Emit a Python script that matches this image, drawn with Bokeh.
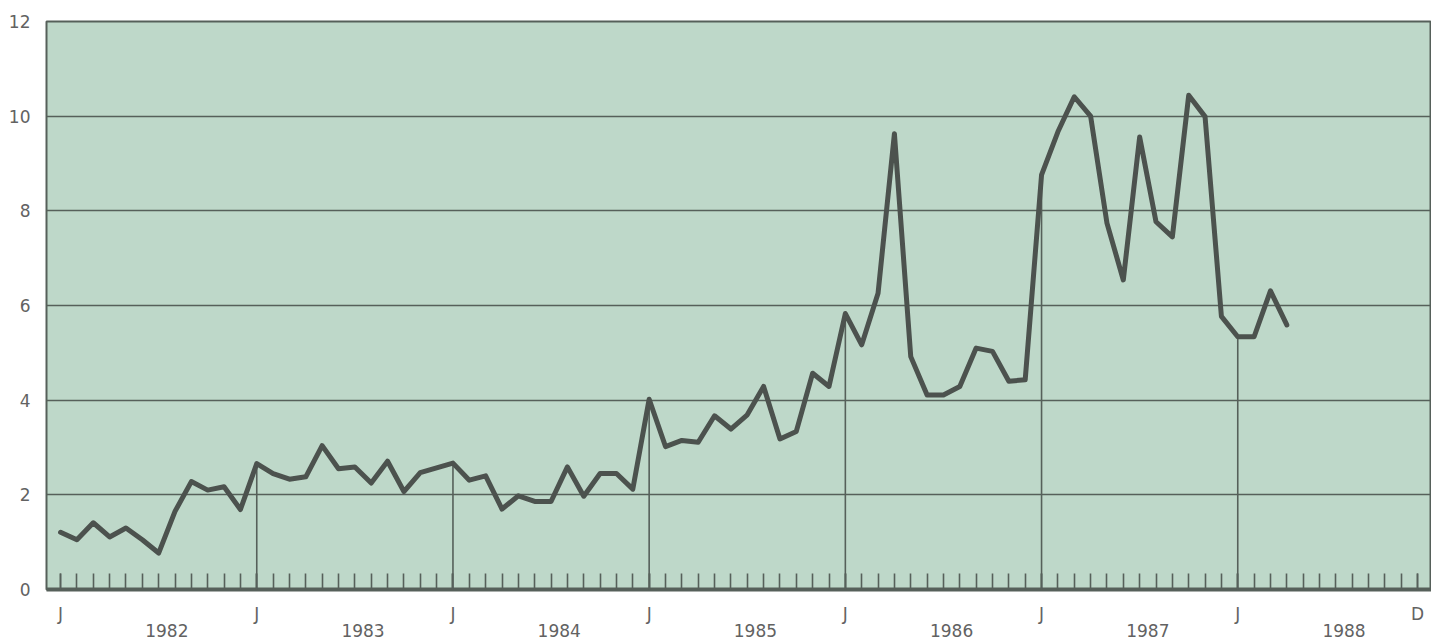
from bokeh.plotting import figure
from bokeh.models import Range1d, LinearAxis, FixedTicker, Grid, ColumnDataSource
from bokeh.embed import file_html
from bokeh.resources import INLINE

# ---- data (monthly, starting January 1982) ----
values = [
    1.21, 1.05, 1.41, 1.11, 1.30, 1.05, 0.77, 1.65, 2.28, 2.10, 2.17, 1.69,   # 1982
    2.66, 2.45, 2.33, 2.38, 3.04, 2.55, 2.59, 2.25, 2.71, 2.07, 2.47, 2.57,   # 1983
    2.67, 2.31, 2.40, 1.70, 1.98, 1.86, 1.86, 2.59, 1.97, 2.45, 2.45, 2.12,   # 1984
    4.02, 3.02, 3.15, 3.11, 3.67, 3.39, 3.69, 4.29, 3.18, 3.34, 4.57, 4.29,   # 1985
    5.83, 5.17, 6.26, 9.63, 4.92, 4.11, 4.11, 4.29, 5.10, 5.03, 4.40, 4.43,   # 1986
    8.76, 9.67, 10.41, 10.00, 7.74, 6.54, 9.56, 7.77, 7.45, 10.44, 9.99, 5.77,  # 1987
    5.34, 5.34, 6.31, 5.59,                                                   # 1988
]
years = ["1982", "1983", "1984", "1985", "1986", "1987", "1988"]
month_labels_jan = "J"
month_label_dec = "D"
y_ticks = [0, 2, 4, 6, 8, 10, 12]

months = list(range(len(values)))
jan_idx = [12 * i for i in range(len(years))]
all_months = list(range(12 * len(years)))
dec_last = 12 * len(years) - 1

BG = "#bed8c9"
DARK = "#56605a"
LINE = "#4c524e"
TXT = "#626262"
FONT = "DejaVu Sans"
FS = "17px"

p = figure(width=1431, height=639,
           x_range=Range1d(-0.86, 83.85), y_range=Range1d(0, 12),
           x_axis_type=None, y_axis_type=None,
           output_backend="svg", toolbar_location=None,
           min_border_left=46, min_border_top=21, min_border_bottom=49, min_border_right=0)
p.background_fill_color = BG
p.border_fill_color = "white"
p.outline_line_color = DARK
p.outline_line_width = 2

# y axis
yax = LinearAxis(ticker=FixedTicker(ticks=y_ticks))
yax.axis_line_color = None
yax.major_tick_line_color = None
yax.minor_tick_line_color = None
yax.major_label_standoff = 10
yax.major_label_text_font = FONT
yax.major_label_text_font_size = FS
yax.major_label_text_color = TXT
p.add_layout(yax, "left")

p.add_layout(Grid(dimension=1, ticker=yax.ticker, grid_line_color=DARK,
                  grid_line_width=1.6))

# x axis: month ticks with J / D labels
xt = [m for m in jan_idx] + [dec_last]
xax = LinearAxis(ticker=FixedTicker(ticks=xt, minor_ticks=all_months))
xax.major_label_overrides = {**{m: month_labels_jan for m in jan_idx}, dec_last: month_label_dec}
xax.axis_line_color = DARK
xax.axis_line_width = 4
xax.major_tick_in = 16
xax.major_tick_out = 0
xax.minor_tick_in = 16
xax.minor_tick_out = 0
xax.major_tick_line_color = DARK
xax.minor_tick_line_color = DARK
xax.major_tick_line_width = 1.6
xax.minor_tick_line_width = 1.6
xax.major_label_standoff = 14
xax.major_label_text_font = FONT
xax.major_label_text_font_size = FS
xax.major_label_text_color = TXT
p.add_layout(xax, "below")

# year labels axis
yr_pos = [12 * i + 6.5 for i in range(len(years))]
yrax = LinearAxis(ticker=FixedTicker(ticks=yr_pos, minor_ticks=[]))
yrax.major_label_overrides = {pos: y for pos, y in zip(yr_pos, years)}
yrax.axis_line_color = None
yrax.major_tick_line_color = None
yrax.minor_tick_line_color = None
yrax.major_tick_in = 0
yrax.major_tick_out = 0
yrax.major_label_standoff = -3
yrax.major_label_text_font = FONT
yrax.major_label_text_font_size = FS
yrax.major_label_text_color = TXT
p.add_layout(yrax, "below")

# vertical January lines from the axis up to the data
jan_lines = [m for m in jan_idx[1:] if m < len(values)]
p.segment(x0=jan_lines, y0=[0] * len(jan_lines), x1=jan_lines,
          y1=[values[m] for m in jan_lines], line_color=DARK, line_width=1.6)

src = ColumnDataSource(dict(x=months, y=values))
p.line("x", "y", source=src, line_color=LINE, line_width=5,
       line_join="round", line_cap="round")

open("out.html", "w").write(file_html(p, INLINE))
